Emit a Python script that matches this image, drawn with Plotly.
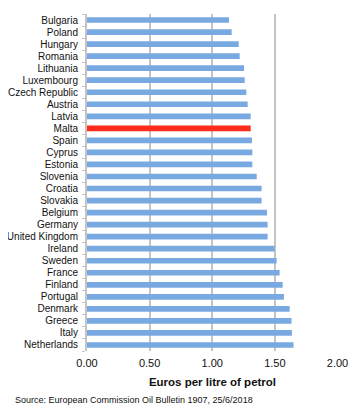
import plotly.graph_objects as go

countries = ["Bulgaria", "Poland", "Hungary", "Romania", "Lithuania", "Luxembourg",
             "Czech Republic", "Austria", "Latvia", "Malta", "Spain", "Cyprus", "Estonia",
             "Slovenia", "Croatia", "Slovakia", "Belgium", "Germany", "United Kingdom",
             "Ireland", "Sweden", "France", "Finland", "Portugal", "Denmark", "Greece",
             "Italy", "Netherlands"]
prices = [1.134, 1.155, 1.211, 1.219, 1.254, 1.259, 1.272, 1.283, 1.307, 1.307, 1.317,
          1.320, 1.320, 1.355, 1.394, 1.394, 1.437, 1.442, 1.442, 1.498, 1.514, 1.538,
          1.562, 1.572, 1.618, 1.633, 1.636, 1.649]
x_ticks = [0, 0.5, 1.0, 1.5, 2.0]
x_ticklabels = ["0.00", "0.50", "1.00", "1.50", "2.00"]
highlight = "Malta"

colors = ["#ff2b1c" if c == highlight else "#79a9e1" for c in countries]

fig = go.Figure(go.Bar(
    x=prices, y=countries, orientation="h",
    marker=dict(color=colors, line=dict(width=0)),
    width=0.47,
))

font = "Liberation Sans, Arial, sans-serif"
# page body has an 8px default margin, so the figure is 8px smaller and offset
fig.update_layout(
    width=352, height=403,
    margin=dict(l=79, r=22, t=6, b=60, autoexpand=False),
    plot_bgcolor="white", paper_bgcolor="white",
    showlegend=False,
    font=dict(family=font, size=10, color="#111"),
    xaxis=dict(
        range=[0, 2.004], tickmode="array", tickvals=x_ticks, ticktext=x_ticklabels,
        showgrid=True, gridcolor="#c4c4c4", gridwidth=2,
        zeroline=False, showline=False, ticks="",
        ticklabelstandoff=4,
        tickfont=dict(size=11, family=font),
        title=dict(text="<b>Euros per litre of petrol</b>", font=dict(size=11.5, family=font), standoff=9),
        automargin=False, fixedrange=True,
    ),
    yaxis=dict(
        autorange="reversed", tickmode="array", tickvals=countries, ticktext=countries,
        showline=True, linecolor="#c4c4c4", linewidth=2,
        ticks="outside", tickson="boundaries", ticklen=3, tickcolor="#c4c4c4",
        ticklabelstandoff=5,
        tickfont=dict(size=10, family=font),
        showgrid=False, automargin=False, fixedrange=True,
    ),
    annotations=[dict(
        text="Source: European Commission Oil Bulletin 1907, 25/6/2018",
        xref="paper", yref="paper", x=-74/251, y=-0.125, xanchor="left", yanchor="top",
        showarrow=False, font=dict(size=9, family=font, color="#111"),
    )],
)

fig.write_html("out.html")
